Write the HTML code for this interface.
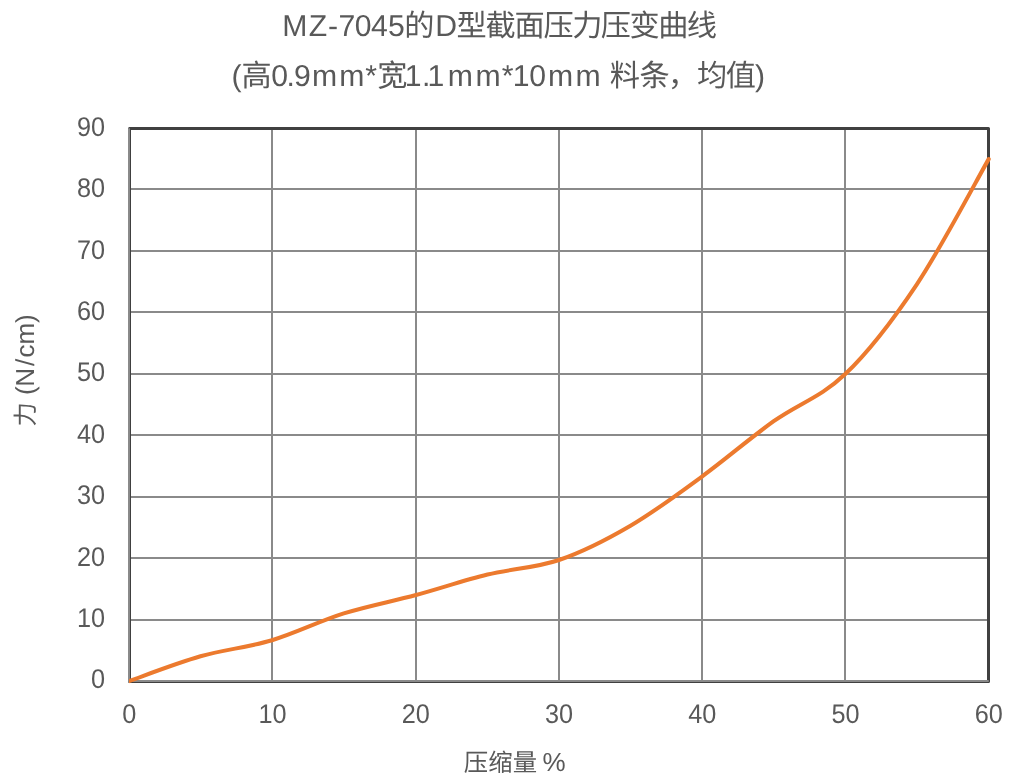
<!DOCTYPE html>
<html lang="zh-CN"><head><meta charset="utf-8">
<title>MZ-7045的D型截面压力压变曲线</title>
<style>
html,body{margin:0;padding:0;background:#fff;}
body{width:1024px;height:777px;overflow:hidden;}
svg{display:block;will-change:transform;}
text{font-family:"Liberation Sans", "Noto Sans CJK SC", sans-serif;fill:#595959;white-space:pre;text-rendering:geometricPrecision;}
.t1{font-size:30.2px;}
.tk{font-size:27.0px;}
.ax{font-size:24.4px;}
.axl{font-size:26.0px;}
</style></head><body>
<svg width="1024" height="777" viewBox="0 0 1024 777" role="img" aria-label="MZ-7045的D型截面压力压变曲线 (高0.9mm*宽1.1mm*10mm 料条，均值)">
<rect x="0" y="0" width="1024" height="777" fill="#ffffff"/>
<!-- chart title -->
<text class="t1" y="35.5" x="282.36 308.77 327.95 338.58 354.76 371.02 387.99 404.33 435.34 456.38 485.58 514.62 543.46 572.22 600.66 629.41 658.22 686.80">MZ-7045的D型截面压力压变曲线</text>
<text class="t1" y="85.6" x="231.41 241.43 271.31 286.41 293.93 311.90 339.25 365.24 377.34 404.81 422.11 427.41 447.75 475.50 501.84 512.71 529.26 547.90 575.55 604.00 609.64 639.39 667.66 696.92 725.71 754.88">(高0.9mm*宽1.1mm*10mm 料条，均值)</text>
<!-- gridlines -->
<g stroke="#8a8a8a" stroke-width="2" fill="none">
<line x1="272" y1="128.5" x2="272" y2="681"/>
<line x1="416" y1="128.5" x2="416" y2="681"/>
<line x1="559" y1="128.5" x2="559" y2="681"/>
<line x1="702" y1="128.5" x2="702" y2="681"/>
<line x1="845" y1="128.5" x2="845" y2="681"/>
<line x1="129" y1="620" x2="988.5" y2="620"/>
<line x1="129" y1="558" x2="988.5" y2="558"/>
<line x1="129" y1="497" x2="988.5" y2="497"/>
<line x1="129" y1="435" x2="988.5" y2="435"/>
<line x1="129" y1="374" x2="988.5" y2="374"/>
<line x1="129" y1="312" x2="988.5" y2="312"/>
<line x1="129" y1="251" x2="988.5" y2="251"/>
<line x1="129" y1="189" x2="988.5" y2="189"/>
</g>
<!-- plot area border + axes -->
<rect x="129.5" y="128.5" width="859" height="553" fill="none" stroke="#404040" stroke-width="3" stroke-linejoin="round"/>
<g stroke="#8a8a8a" stroke-width="2" fill="none" stroke-linecap="round">
<line x1="129" y1="129" x2="129" y2="681"/>
<line x1="129" y1="681" x2="988" y2="681"/>
</g>
<!-- data series (smoothed line) -->
<clipPath id="cp"><rect x="128.9" y="100" width="900" height="600"/></clipPath>
<path clip-path="url(#cp)" d="M129.00 681.12 C140.92 676.99 176.67 663.14 200.50 656.32 C224.33 649.50 248.12 647.37 272.00 640.22 C295.88 633.07 319.80 620.95 343.80 613.42 C367.80 605.89 392.05 601.50 416.00 595.02 C439.95 588.54 463.67 580.35 487.50 574.52 C511.33 568.69 535.17 568.15 559.00 560.02 C582.83 551.89 606.67 539.64 630.50 525.72 C654.33 511.80 678.13 493.94 702.00 476.52 C725.87 459.10 749.87 438.25 773.70 421.22 C797.53 404.19 821.17 397.10 845.00 374.32 C868.83 351.54 892.75 320.39 916.70 284.52 C940.65 248.65 976.70 180.02 988.70 159.12" fill="none" stroke="#ec7a2e" stroke-width="4.05" stroke-linecap="round" stroke-linejoin="round"/>
<!-- y axis tick labels -->
<text class="tk" x="91.01" y="688.45" textLength="14.07" lengthAdjust="spacingAndGlyphs">0</text>
<text class="tk" x="76.97" y="627.03" textLength="28.12" lengthAdjust="spacingAndGlyphs">10</text>
<text class="tk" x="76.97" y="565.61" textLength="28.12" lengthAdjust="spacingAndGlyphs">20</text>
<text class="tk" x="76.97" y="504.19" textLength="28.12" lengthAdjust="spacingAndGlyphs">30</text>
<text class="tk" x="76.97" y="442.77" textLength="28.12" lengthAdjust="spacingAndGlyphs">40</text>
<text class="tk" x="76.97" y="381.35" textLength="28.12" lengthAdjust="spacingAndGlyphs">50</text>
<text class="tk" x="76.97" y="319.93" textLength="28.12" lengthAdjust="spacingAndGlyphs">60</text>
<text class="tk" x="76.97" y="258.51" textLength="28.12" lengthAdjust="spacingAndGlyphs">70</text>
<text class="tk" x="76.97" y="197.09" textLength="28.12" lengthAdjust="spacingAndGlyphs">80</text>
<text class="tk" x="76.97" y="135.67" textLength="28.12" lengthAdjust="spacingAndGlyphs">90</text>
<!-- x axis tick labels -->
<text class="tk" x="122.16" y="723.10" textLength="14.07" lengthAdjust="spacingAndGlyphs">0</text>
<text class="tk" x="258.52" y="723.10" textLength="28.12" lengthAdjust="spacingAndGlyphs">10</text>
<text class="tk" x="401.77" y="723.10" textLength="28.12" lengthAdjust="spacingAndGlyphs">20</text>
<text class="tk" x="545.02" y="723.10" textLength="28.12" lengthAdjust="spacingAndGlyphs">30</text>
<text class="tk" x="688.27" y="723.10" textLength="28.12" lengthAdjust="spacingAndGlyphs">40</text>
<text class="tk" x="831.52" y="723.10" textLength="28.12" lengthAdjust="spacingAndGlyphs">50</text>
<text class="tk" x="974.77" y="723.10" textLength="28.12" lengthAdjust="spacingAndGlyphs">60</text>
<!-- axis titles -->
<text class="ax" y="770.6" x="463.72 488.18 512.65 537.11">压缩量 <tspan class="axl" x="542.48">%</tspan></text>
<text class="ax" transform="translate(34.2 425) rotate(-90)" y="0" x="-1.52 24.00">力 <tspan class="axl" x="29.96 38.37 59.08 67.42 80.50 101.93">(N/cm)</tspan></text>
</svg>
</body></html>
